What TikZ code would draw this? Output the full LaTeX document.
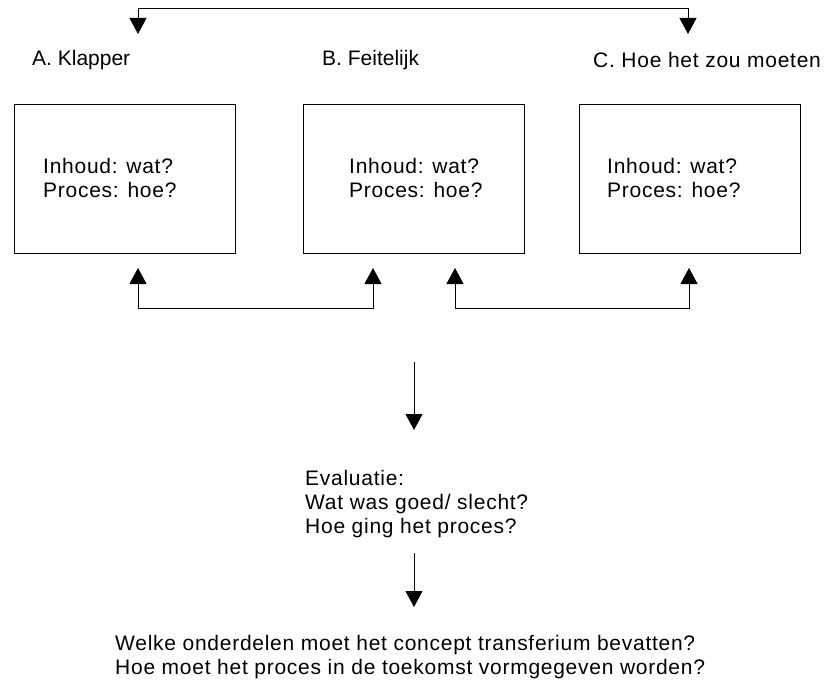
\documentclass[tikz,border=0pt]{standalone}
\usepackage{fontspec}
\setmainfont{Liberation Sans}
\newfontfamily\trkfont{Liberation Sans}[LetterSpace=3.5]
\usetikzlibrary{arrows.meta}
\tikzset{
  conn/.style={line width=1bp, draw=black},
  tip/.style={-{Triangle[width=17bp,length=16bp]}},
  tips/.style={{Triangle[width=17bp,length=16bp]}-{Triangle[width=17bp,length=16bp]}},
  stage/.style={draw=black, line width=1bp, minimum width=221bp, minimum height=149bp, inner sep=0pt, anchor=north west},
  plain/.style={inner sep=0pt, anchor=west, align=left, font=\fontsize{21bp}{24bp}\selectfont},
  spaced/.style={inner sep=0pt, anchor=west, align=left, font=\fontsize{21bp}{24bp}\selectfont\trkfont},
}
\begin{document}
\begin{tikzpicture}[x=1bp,y=-1bp]
\useasboundingbox (0,0) rectangle (824,684);
% labels
\node[plain]  (labA) at (32,60) {A. Klapper};
\node[plain]  (labB) at (322,60) {B. Feitelijk};
\node[spaced] (labC) at (593,60) {C. Hoe het zou moeten};
% boxes
\node[stage] (boxA) at (14,104) {};
\node[stage] (boxB) at (303,104) {};
\node[stage] (boxC) at (579,104) {};
\node[spaced] (txtA) at (43,178) {Inhoud: wat?\\Proces: hoe?};
\node[spaced] (txtB) at (349,178) {Inhoud: wat?\\Proces: hoe?};
\node[spaced] (txtC) at (607,178) {Inhoud: wat?\\Proces: hoe?};
% top connector
\coordinate (tA) at (138,34);
\coordinate (tC) at (688,34);
\draw[conn,tips] (tA) -- ++(0,-25) -| (tC);
% bottom connectors
\coordinate (bA) at (138,268);
\coordinate (bB1) at (373,268);
\coordinate (bB2) at (455,268);
\coordinate (bC) at (689,268);
\draw[conn,tips] (bA) -- ++(0,40) -| (bB1);
\draw[conn,tips] (bB2) -- ++(0,40) -| (bC);
% evaluation
\coordinate (m1) at (414,362);
\coordinate (m2) at (414,430);
\node[spaced] (eval) at (305,504) {Evaluatie:\\Wat was goed/ slecht?\\Hoe ging het proces?};
\coordinate (m3) at (414,553);
\coordinate (m4) at (414,607);
\draw[conn,tip] (m1) -- (m2);
\draw[conn,tip] (m3) -- (m4);
\node[spaced] (final) at (115,657) {Welke onderdelen moet het concept transferium bevatten?\\Hoe moet het proces in de toekomst vormgegeven worden?};
\end{tikzpicture}
\end{document}
